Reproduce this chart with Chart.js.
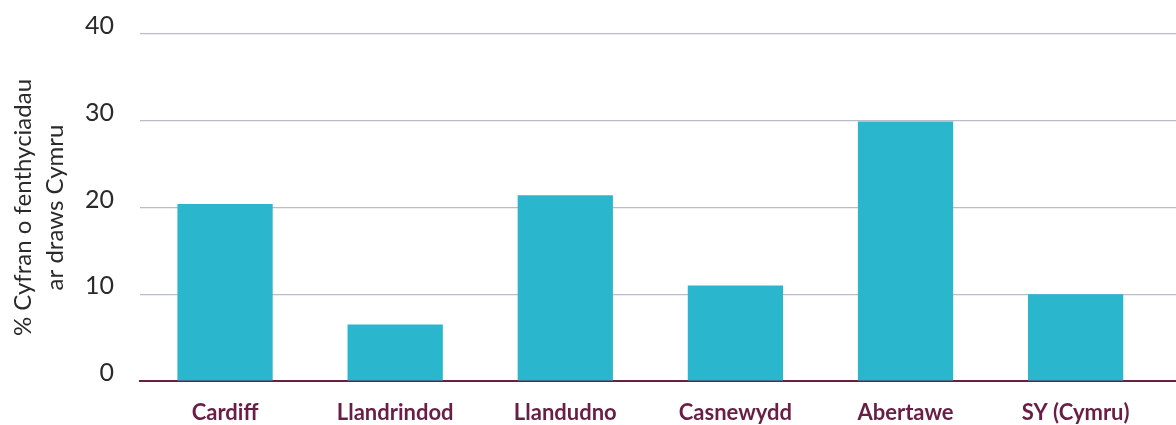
<!DOCTYPE html>
<html>
<head>
<meta charset="utf-8">
<script src="https://cdn.jsdelivr.net/npm/chart.js@4"></script>
<style>
  html, body { margin: 0; padding: 0; background: #fff; }
  #wrap { width: 1176px; height: 425px; }
</style>
</head>
<body>
<div id="wrap"><canvas id="chart"></canvas></div>
<script>
// data
const categories = ['Cardiff', 'Llandrindod', 'Llandudno', 'Casnewydd', 'Abertawe', 'SY (Cymru)'];
const shareValues = [20.4, 6.5, 21.4, 11.0, 29.9, 10.0];
const yTicks = [0, 10, 20, 30, 40];
const yTitle = ['% Cyfran o fenthyciadau', 'ar draws Cymru'];

const purple = '#6a1e45';

// x as a linear index axis so the grid can run past the last category
const points = categories.map((c, i) => ({ x: i, y: shareValues[i] }));

new Chart(document.getElementById('chart'), {
    type: 'bar',
    data: {
        datasets: [{
            data: points,
            backgroundColor: '#2ab7cd',
            barPercentage: 0.56,
            categoryPercentage: 1
        }]
    },
    options: {
        responsive: true,
        maintainAspectRatio: false,
        animation: false,
        layout: { padding: { top: 34, right: 0, bottom: 0, left: 0 } },
        plugins: { legend: { display: false }, tooltip: { enabled: false } },
        scales: {
            x: {
                type: 'linear',
                offset: false,
                min: -0.5,
                max: 5.59,
                grid: { display: false, offset: false },
                border: { color: purple, width: 2 },
                afterBuildTicks: s => { s.ticks = categories.map((c, i) => ({ value: i })); },
                ticks: {
                    autoSkip: false,
                    maxRotation: 0,
                    color: purple,
                    padding: 11,
                    callback: v => categories[v],
                    font: { family: 'Lato', size: 22, weight: 'bold' }
                },
                afterFit: s => { s.height = 44; s.paddingLeft = 0; s.paddingRight = 0; }
            },
            y: {
                min: 0,
                max: 40,
                afterBuildTicks: s => { s.ticks = yTicks.map(v => ({ value: v })); },
                ticks: {
                    color: '#2a2a2a',
                    padding: 26,
                    labelOffset: -8,
                    font: { family: 'Lato', size: 25, weight: 400 }
                },
                grid: { color: '#b8bccb', lineWidth: 1.2, drawTicks: false },
                border: { display: false },
                title: {
                    display: true,
                    text: yTitle,
                    color: '#2a2a2a',
                    padding: { top: 8, bottom: 0 },
                    font: { family: 'Lato', size: 24, weight: 400, lineHeight: 1.3 }
                },
                afterFit: s => { s.width = 140; s.paddingTop = 0; s.paddingBottom = 0; }
            }
        }
    }
});
</script>
</body>
</html>
